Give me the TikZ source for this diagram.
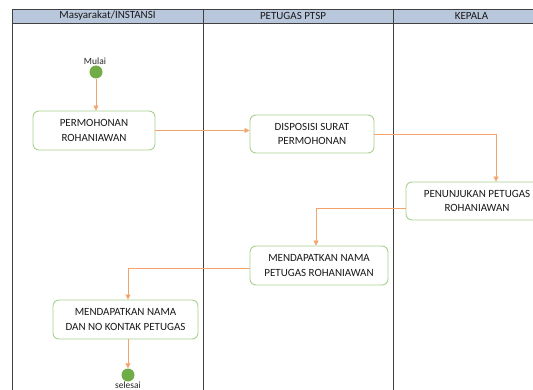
\documentclass[tikz,border=0pt]{standalone}
\usepackage{fontspec}
\setmainfont{Carlito}
\usetikzlibrary{arrows.meta}
\definecolor{garis}{HTML}{404040}
\definecolor{kepala}{HTML}{B8C7DB}
\definecolor{hijau}{HTML}{A9D18E}
\definecolor{bulatan}{HTML}{70AD47}
\definecolor{oranye}{HTML}{F4A46A}

\begin{document}
\begin{tikzpicture}[x=1pt, y=-1pt,
    kotak/.style={draw=hijau, line width=0.9pt, rounded corners=6pt, fill=white,
      align=center, text=black!90, inner sep=0pt,
      font=\fontsize{11}{14.5}\selectfont},
    bulat/.style={circle, fill=bulatan, minimum size=13pt, inner sep=0pt},
    panah/.style={draw=oranye, line width=0.8pt, -{Triangle[width=5pt,length=5pt]}},
    judul/.style={font=\fontsize{11}{13}\selectfont, text=black!90},
    label/.style={font=\fontsize{9.5}{11}\selectfont, text=black!85}]
  \useasboundingbox (0,0) rectangle (533,390);
  \clip (0,0) rectangle (533,390);

  % Swimlanes
  \fill[kepala] (12,9) rectangle (545,23);
  \draw[garis, line width=0.8pt] (545,9) -- (12,9) -- (12,400);
  \draw[garis, line width=0.8pt] (12,23) -- (545,23);
  \draw[garis, line width=0.8pt] (203,9) -- (203,400);
  \draw[garis, line width=0.8pt] (393,9) -- (393,400);

  \node[judul] (lajur1) at (107.5,16) {Masyarakat/INSTANSI};
  \node[judul] (lajur2) at (293,16) {PETUGAS PTSP};
  \node[judul] (lajur3) at (471.5,16) {KEPALA};

  % Start and end
  \node[label] (tmulai) at (95,61) {Mulai};
  \node[bulat] (mulai) at (96,72) {};
  \node[bulat] (selesai) at (128,375) {};
  \node[label, inner sep=1pt] (tselesai) at (128,385) {selesai};

  % Steps
  \node[kotak, minimum width=122pt, minimum height=39pt] (mohon) at (94,130.5)
    {PERMOHONAN\\ROHANIAWAN};
  \node[kotak, minimum width=124pt, minimum height=38pt] (disp) at (312,134)
    {DISPOSISI SURAT\\PERMOHONAN};
  \node[kotak, minimum width=142pt, minimum height=38pt] (tunjuk) at (477,201)
    {PENUNJUKAN PETUGAS\\ROHANIAWAN};
  \node[kotak, minimum width=138pt, minimum height=39pt] (nama) at (319,265.5)
    {MENDAPATKAN NAMA\\PETUGAS ROHANIAWAN};
  \node[kotak, minimum width=145pt, minimum height=39pt] (kontak) at (125.5,319.5)
    {MENDAPATKAN NAMA\\DAN NO KONTAK PETUGAS};

  % Flow
  \draw[panah] (mulai) -- (mulai |- mohon.north);
  \draw[panah] (mohon.east) -- (mohon.east -| disp.west);
  \draw[panah] (disp.east) -| ([xshift=19pt]tunjuk.north);
  \draw[panah] ([yshift=-7pt]tunjuk.west) -| ([xshift=-3pt]nama.north);
  \draw[panah] ([yshift=-3pt]nama.west) -| (selesai |- kontak.north);
  \draw[panah] (selesai |- kontak.south) -- (selesai);
\end{tikzpicture}
\end{document}
